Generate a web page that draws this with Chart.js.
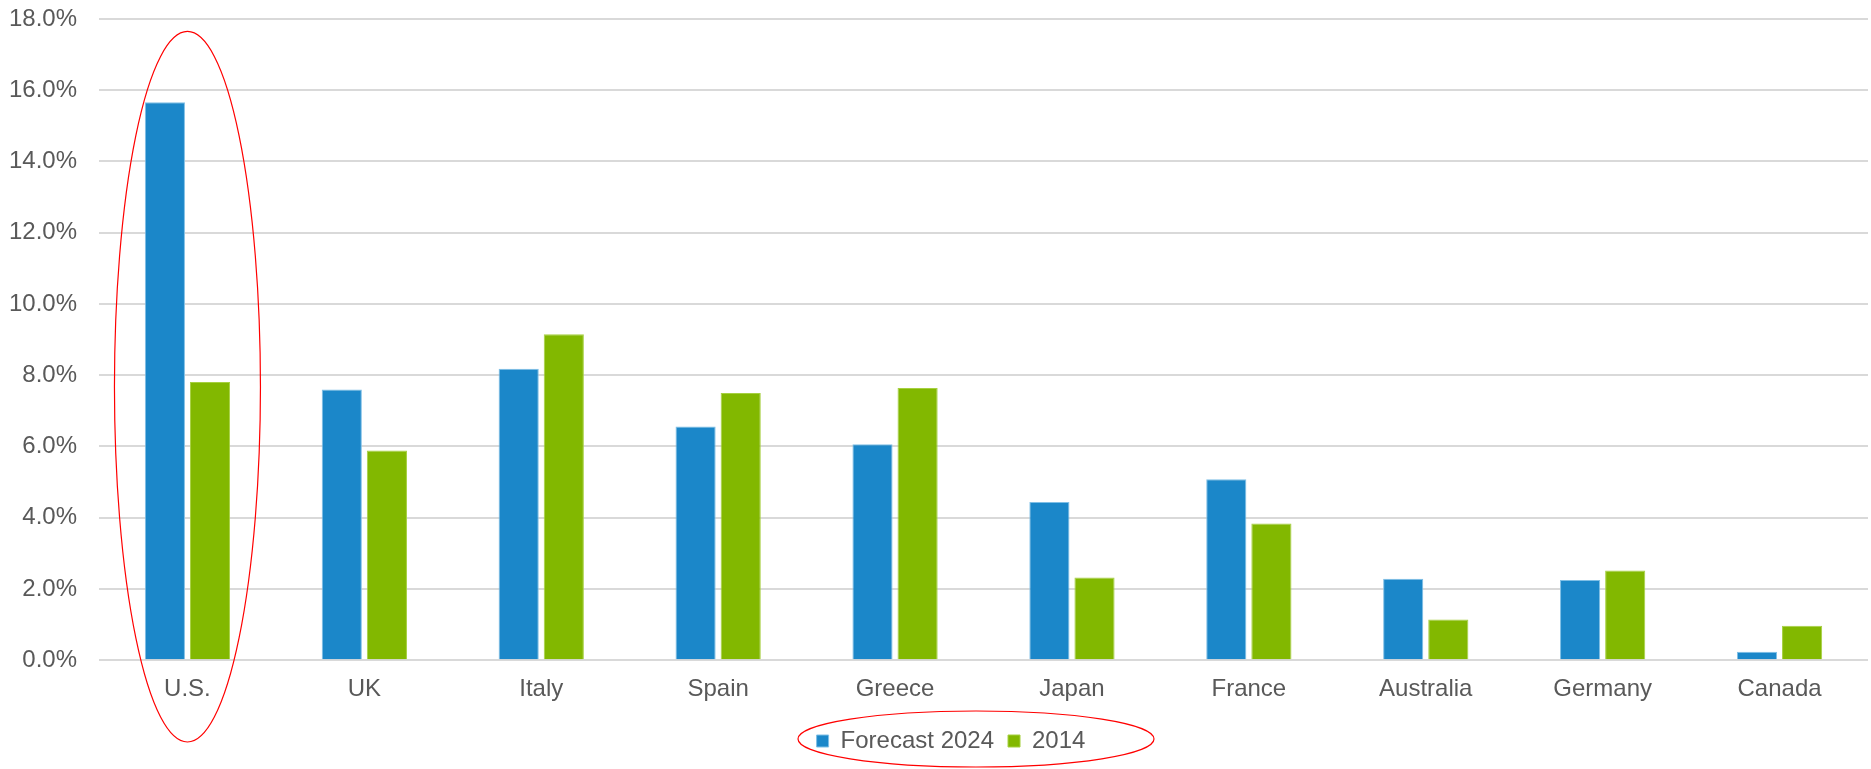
<!DOCTYPE html>
<html>
<head>
<meta charset="utf-8">
<script src="https://cdn.jsdelivr.net/npm/chart.js@4/dist/chart.umd.min.js"></script>
<style>
  html, body { margin: 0; padding: 0; background: #ffffff; }
  #wrap { width: 1871px; height: 769px; position: relative; }
</style>
</head>
<body>
<div id="wrap"><canvas id="chart"></canvas></div>
<script>
const paises = ["U.S.", "UK", "Italy", "Spain", "Greece", "Japan", "France", "Australia", "Germany", "Canada"];
const forecast2024 = [15.66, 7.60, 8.18, 6.56, 6.06, 4.44, 5.08, 2.29, 2.25, 0.24];
const valores2014 = [7.81, 5.89, 9.15, 7.50, 7.64, 2.32, 3.84, 1.14, 2.52, 0.97];
const etiquetasSeries = ["Forecast 2024", "2014"];

// elipses rojas que marcan EE.UU. y la leyenda
const elipses = {
  id: "elipses",
  afterLayout(chart) {
    // la leyenda original está algo desplazada a la derecha
    chart.legend.left += 17;
    chart.legend.right += 17;
  },
  afterDraw(chart) {
    const ctx = chart.ctx;
    const x = chart.scales.x;
    const y = chart.scales.y;
    ctx.save();
    ctx.strokeStyle = "#ff0000";
    ctx.lineWidth = 1.2;

    const cx = x.getPixelForValue(0);
    const top = y.getPixelForValue(17.65);
    const bottom = 742;
    ctx.beginPath();
    ctx.ellipse(cx, (top + bottom) / 2, 73, (bottom - top) / 2, 0, 0, Math.PI * 2);
    ctx.stroke();

    const lg = chart.legend;
    const lx = lg.left + lg.width / 2 + 25;
    const ly = lg.top + lg.height / 2;
    ctx.beginPath();
    ctx.ellipse(lx, ly, 178, 28, 0, 0, Math.PI * 2);
    ctx.stroke();
    ctx.restore();
  }
};

const canvas = document.getElementById("chart");
new Chart(canvas, {
  type: "bar",
  data: {
    labels: paises,
    datasets: [{
      label: etiquetasSeries[0],
      data: forecast2024,
      backgroundColor: "#1b87c9",
      borderColor: "#7fbfe6",
      borderWidth: 1,
      barPercentage: 0.89,
      categoryPercentage: 0.51
    }, {
      label: etiquetasSeries[1],
      data: valores2014,
      backgroundColor: "#82b800",
      borderColor: "#a6d040",
      borderWidth: 1,
      barPercentage: 0.89,
      categoryPercentage: 0.51
    }]
  },
  options: {
    responsive: true,
    maintainAspectRatio: false,
    animation: false,
    layout: { padding: { top: 19, right: 3, left: 0, bottom: 6 } },
    scales: {
      x: {
        grid: { display: false },
        border: { display: false },
        afterFit: s => { s.height += 4; },
        ticks: {
          color: "#595959",
          font: { family: "Liberation Sans, Arial", size: 24 },
          padding: 7
        }
      },
      y: {
        min: 0,
        max: 18,
        grid: { color: "#d9d9d9", lineWidth: 2, drawTicks: false },
        border: { display: false },
        afterFit: s => { s.width = 99; s.paddingTop = 0; s.paddingBottom = 0; },
        ticks: {
          stepSize: 2,
          color: "#595959",
          padding: 22,
          font: { family: "Liberation Sans, Arial", size: 24 },
          callback: v => v.toFixed(1) + "%"
        }
      }
    },
    plugins: {
      legend: {
        display: true,
        position: "bottom",
        labels: {
          boxWidth: 12,
          boxHeight: 12,
          padding: 14,
          color: "#595959",
          font: { family: "Liberation Sans, Arial", size: 24 }
        }
      },
      tooltip: { enabled: false }
    }
  },
  plugins: [elipses]
});
</script>
</body>
</html>
